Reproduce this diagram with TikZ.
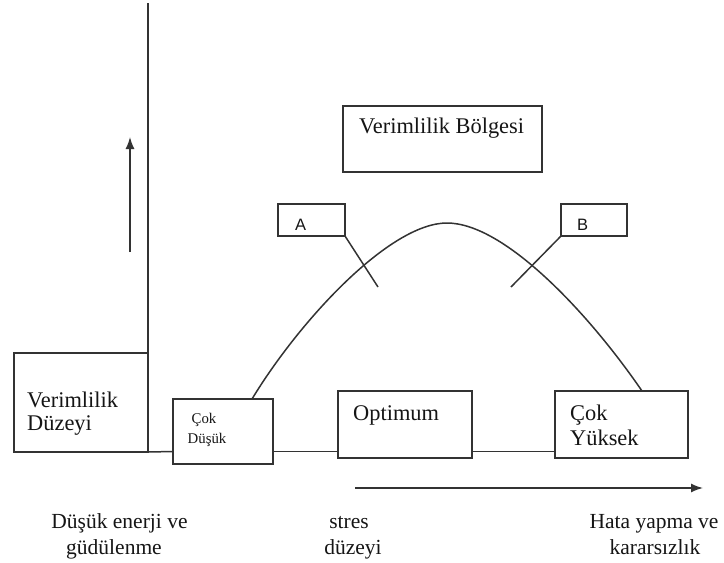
\documentclass[tikz,border=0pt]{standalone}
\usepackage{fontspec}
\setmainfont{Liberation Serif}
\newfontfamily\sanslab{Liberation Sans}
\usetikzlibrary{arrows.meta}
\definecolor{ln}{HTML}{333333}
\definecolor{tx}{HTML}{151515}
\begin{document}
\begin{tikzpicture}[x=1pt,y=-1pt,
  box/.style={draw=ln, line width=1.7pt, fill=white, inner sep=0pt, outer sep=0pt},
  conn/.style={draw=ln, line width=1.5pt},
  txt/.style={inner sep=0pt, text=tx, font=\fontsize{21.5}{26}\selectfont},
  bxtxt/.style={inner sep=0pt, text=tx, font=\fontsize{22.4}{26}\selectfont},
  smtxt/.style={inner sep=0pt, text=tx, font=\fontsize{14.8}{20}\selectfont},
  lab/.style={inner sep=0pt, text=tx, font=\sanslab\fontsize{16.5}{20}\selectfont},
  arr/.style={conn, -{Latex[length=12pt,width=9pt]}}
]
\useasboundingbox (0,0) rectangle (724,563);

% axes
\coordinate (vtop) at (148,3);
\coordinate (hl) at (0,451.5);
\coordinate (ua0) at (130,252);
\coordinate (ua1) at (130,137);
\coordinate (ba0) at (355,488);
\coordinate (ba1) at (703,488);

% curve
\coordinate (c0) at (252,399);
\coordinate (peak) at (447,223);
\coordinate (c1) at (642,391);
\draw[conn] (c0) .. controls (300,320) and (390,223) .. (peak)
            .. controls (505,223) and (590,315) .. (c1);

% boxes
\node[box, minimum width=134pt, minimum height=99pt] (vd) at (81,402.5) {};
\node[box, minimum width=100pt, minimum height=65pt] (cd) at (223,431.5) {};
\node[box, minimum width=134pt, minimum height=67pt] (opt) at (405,424.5) {};
\node[box, minimum width=133pt, minimum height=67pt] (cy) at (621.5,424.5) {};
\node[box, minimum width=199pt, minimum height=66pt] (vb) at (442.5,139) {};
\node[box, minimum width=67pt, minimum height=32pt] (a) at (311.5,220) {};
\node[box, minimum width=66pt, minimum height=32pt] (b) at (594,220) {};

% lines
\draw[conn] (vtop) -- (vd.south east);
\draw[conn] (vd.south east) -- (cd.west |- hl);
\draw[conn] (cd.east |- hl) -- (opt.west |- hl);
\draw[conn] (opt.east |- hl) -- (cy.west |- hl);
\draw[arr] (ua0) -- (ua1);
\draw[arr] (ba0) -- (ba1);

\coordinate (a1) at (378,287);
\coordinate (b1) at (511,287);
\draw[conn] (a.south east) -- (a1);
\draw[conn] (b.south west) -- (b1);

% texts in boxes
\node[bxtxt, anchor=base west] (t1) at (27,407) {Verimlilik};
\node[bxtxt, anchor=base west] (t2) at (27,430) {Düzeyi};
\node[smtxt, anchor=base] (t3) at (204,423) {Çok};
\node[smtxt, anchor=base] (t4) at (207,443) {Düşük};
\node[bxtxt, anchor=base west] (t5) at (353,420) {Optimum};
\node[bxtxt, anchor=base west] (t6) at (570,420) {Çok};
\node[bxtxt, anchor=base west] (t7) at (570,445) {Yüksek};
\node[bxtxt, anchor=base west] (t8) at (359,133) {Verimlilik Bölgesi};
\node[lab, anchor=base west] (t9) at (295,230) {A};
\node[lab, anchor=base west] (t10) at (577,230) {B};

% bottom texts
\node[txt, anchor=base] (b1t) at (119.5,528) {Düşük enerji ve};
\node[txt, anchor=base] (b2t) at (114,554) {güdülenme};
\node[txt, anchor=base] (b3t) at (349,528) {stres};
\node[txt, anchor=base] (b4t) at (353,554) {düzeyi};
\node[txt, anchor=base] (b5t) at (654,528) {Hata yapma ve};
\node[txt, anchor=base] (b6t) at (655,554) {kararsızlık};
\end{tikzpicture}
\end{document}
